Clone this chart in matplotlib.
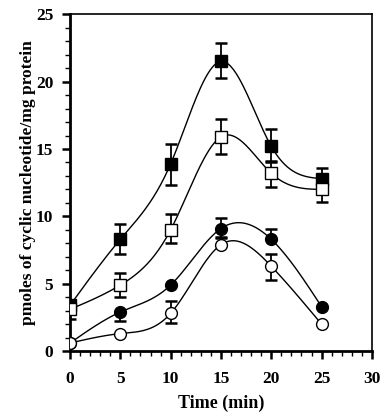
import numpy as np
import matplotlib.pyplot as plt
from matplotlib.ticker import MultipleLocator

# Time points (min)
time = [0, 5, 10, 15, 20, 25]

# Series values
filled_sq = [3.4, 8.3, 13.9, 21.5, 15.2, 12.8]
filled_sq_lo = [0.0, 1.1, 1.6, 1.2, 1.2, 0.5]
filled_sq_hi = [0.0, 1.1, 1.5, 1.4, 1.3, 0.8]

open_sq = [3.1, 4.9, 9.0, 15.9, 13.2, 12.0]
open_sq_lo = [0.7, 0.9, 1.0, 1.3, 1.0, 0.9]
open_sq_hi = [0.0, 0.9, 1.2, 1.3, 0.9, 0.0]

filled_ci = [0.6, 2.9, 4.9, 9.1, 8.3, 3.3]
filled_ci_lo = [0.0, 0.7, 0.0, 0.7, 0.0, 0.0]
filled_ci_hi = [0.0, 0.0, 0.0, 0.8, 0.8, 0.0]

open_ci = [0.6, 1.3, 2.8, 7.9, 6.3, 2.0]
open_ci_lo = [0.0, 0.0, 0.7, 0.0, 1.0, 0.0]
open_ci_hi = [0.0, 0.0, 0.9, 0.6, 0.9, 0.0]


def natural_spline(x, y, n=200):
    x = np.asarray(x, float)
    y = np.asarray(y, float)
    k = len(x)
    h = np.diff(x)
    A = np.zeros((k, k))
    b = np.zeros(k)
    A[0, 0] = A[-1, -1] = 1
    for i in range(1, k - 1):
        A[i, i - 1] = h[i - 1]
        A[i, i] = 2 * (h[i - 1] + h[i])
        A[i, i + 1] = h[i]
        b[i] = 3 * ((y[i + 1] - y[i]) / h[i] - (y[i] - y[i - 1]) / h[i - 1])
    c = np.linalg.solve(A, b)
    xs = np.linspace(x[0], x[-1], n)
    ys = np.empty_like(xs)
    for j, xv in enumerate(xs):
        i = min(np.searchsorted(x, xv, side='right') - 1, k - 2)
        bi = (y[i + 1] - y[i]) / h[i] - h[i] * (2 * c[i] + c[i + 1]) / 3
        di = (c[i + 1] - c[i]) / (3 * h[i])
        dx = xv - x[i]
        ys[j] = y[i] + bi * dx + c[i] * dx ** 2 + di * dx ** 3
    return xs, ys


plt.rcParams['font.family'] = 'Liberation Serif'
plt.rcParams['font.weight'] = 'bold'

fig = plt.figure(figsize=(3.89, 4.2), dpi=100)
ax = fig.add_axes([0.18, 0.164, 0.776, 0.802])

series = [
    (filled_sq, filled_sq_lo, filled_sq_hi, 's', 'black'),
    (open_sq, open_sq_lo, open_sq_hi, 's', 'white'),
    (filled_ci, filled_ci_lo, filled_ci_hi, 'o', 'black'),
    (open_ci, open_ci_lo, open_ci_hi, 'o', 'white'),
]

for vals, lo, hi, m, fc in series:
    xs, ys = natural_spline(time, vals)
    ax.plot(xs, ys, color='black', lw=1.0, zorder=2)
    ax.errorbar(time, vals, yerr=[lo, hi], fmt='none', ecolor='black',
                elinewidth=1.3, capsize=4, capthick=1.8, zorder=3)
    ax.plot(time, vals, m, ms=9 if m == 's' else 8.5, mfc=fc, mec='black',
            mew=1.0, ls='none', zorder=4)

ax.set_xlim(0, 30)
ax.set_ylim(0, 25)
ax.xaxis.set_major_locator(MultipleLocator(5))
ax.xaxis.set_minor_locator(MultipleLocator(1))
ax.yaxis.set_major_locator(MultipleLocator(5))
ax.yaxis.set_minor_locator(MultipleLocator(1))
ax.tick_params(which='major', direction='out', length=6, width=1.8, labelsize=12.5)
ax.tick_params(axis='x', which='major', pad=8)
ax.tick_params(axis='y', which='major', pad=6)
ax.tick_params(which='minor', direction='out', length=3.5, width=1.0)

for s in ['left', 'bottom']:
    ax.spines[s].set_linewidth(2.0)
for s in ['top', 'right']:
    ax.spines[s].set_linewidth(1.2)

ax.set_xlabel('Time (min)', fontsize=13, fontweight='bold', labelpad=6)
ax.set_ylabel('pmoles of cyclic nucleotide/mg protein', fontsize=12.5,
              fontweight='bold', labelpad=0)

fig.savefig('out.png', dpi=100)
